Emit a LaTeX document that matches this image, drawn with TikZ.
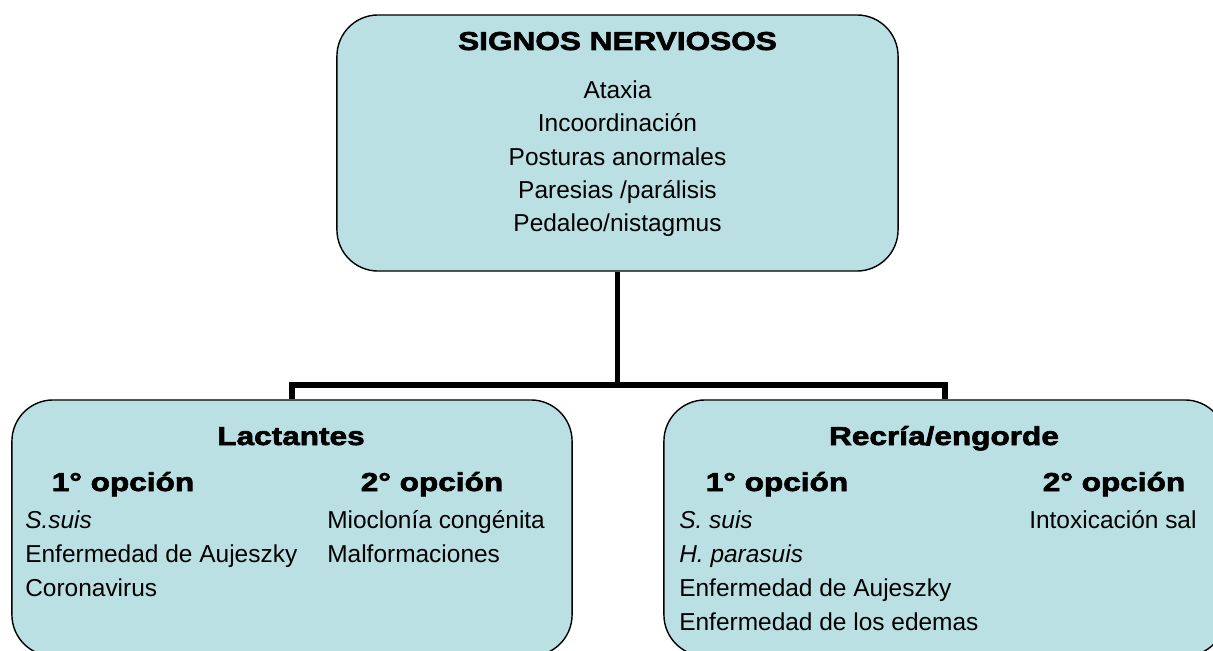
\documentclass[tikz,border=0pt]{standalone}
\usepackage{fontspec}
\setmainfont{Liberation Sans}
\newfontfamily\headfont{Liberation Sans}[FakeStretch=1.22,BoldFeatures={FakeBold=2.5}]
\definecolor{boxfill}{RGB}{187,224,227}
\tikzset{
  box/.style={draw, line width=1pt, fill=boxfill, rounded corners=1.03cm,
    minimum height=6.4cm, inner sep=0},
  heading/.style={font={\headfont\bfseries\fontsize{18.4}{22}\selectfont}, anchor=base, inner sep=0},
  itemlist/.style={font={\fontsize{17.4}{24.2}\selectfont}, align=left, anchor=north west, inner sep=0},
  conn/.style={line width=4pt}
}
\begin{document}
\begin{tikzpicture}[x=0.025cm, y=-0.025cm]
  \useasboundingbox (0,0) rectangle (1213,651);

  % Boxes
  \node[box, minimum width=14.025cm] (signos) at (617.5,143) {};
  \node[box, minimum width=14cm] (lact) at (292,528) {};
  \node[box, minimum width=14.05cm] (recria) at (945,528) {};

  % Connectors
  \coordinate (split) at (617.5,385);
  \draw[conn] (signos.south) -- (split);
  \draw[conn] (split) -| (lact.north);
  \draw[conn] (split) -| (recria.north);

  % Top box
  \node[heading] (signostitle) at (617.5,50) {SIGNOS NERVIOSOS};
  \node[itemlist, anchor=north, align=center, font={\fontsize{17.4}{23.65}\selectfont}] (signoslist) at (617.5,80.5)
    {Ataxia\\Incoordinación\\Posturas anormales\\Paresias /parálisis\\Pedaleo/nistagmus};

  % Lactantes
  \node[heading] (lacttitle) at (291,445) {Lactantes};
  \node[heading] (lactopa) at (123,491) {1° opción};
  \node[heading] (lactopb) at (432,491) {2° opción};
  \node[itemlist] (lactlista) at (25,510)
    {\textit{S.suis}\\Enfermedad de Aujeszky\\Coronavirus};
  \node[itemlist] (lactlistb) at (327,510)
    {Mioclonía congénita\\Malformaciones};

  % Recria/engorde
  \node[heading] (recriatitle) at (944,445) {Recría/engorde};
  \node[heading] (recriaopa) at (777,491) {1° opción};
  \node[heading] (recriaopb) at (1114,491) {2° opción};
  \node[itemlist] (recrialista) at (679,510)
    {\textit{S. suis}\\\textit{H. parasuis}\\Enfermedad de Aujeszky\\Enfermedad de los edemas};
  \node[itemlist] (recrialistb) at (1029,510)
    {Intoxicación sal};
\end{tikzpicture}
\end{document}
